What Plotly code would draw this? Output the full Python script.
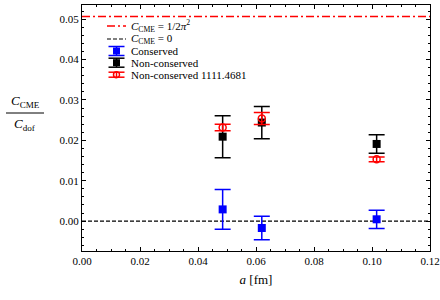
import math
import plotly.graph_objects as go

# ---- data ----
a_fm = [0.0485, 0.0620, 0.1016]
cons_y = [0.0029, -0.0017, 0.00045]
cons_err = [0.0049, 0.0029, 0.00225]
ncons_y = [0.0209, 0.0244, 0.0191]
ncons_err = [0.0052, 0.0040, 0.0023]
ref_y = [0.0232, 0.0254, 0.0153]
ref_err = [0.0008, 0.0015, 0.0006]
c_cme_theory = 1 / (2 * math.pi ** 2)
c_cme_zero = 0.0

x_ticks = [0.00, 0.02, 0.04, 0.06, 0.08, 0.10, 0.12]
y_ticks = [0.00, 0.01, 0.02, 0.03, 0.04, 0.05]

legend_labels = ["<i>C</i><sub>CME</sub> = 1/2<i>π</i><sup>2</sup>",
                 "<i>C</i><sub>CME</sub> = 0",
                 "Conserved", "Non-conserved", "Non-conserved 1111.4681"]

BLUE = "#0000ff"
BLACK = "#000000"
RED = "#ff0000"
FONT = "Liberation Serif"
DASHDOT = "8px,3px,2px,3px"
DASH = "4px,2px"

W, H = 440, 300
L, R, T, B = 82, 10, 5, 49
PW, PH = W - L - R, H - T - B


def px(xp):
    return (xp - L) / PW


def py(yp):
    return (H - B - yp) / PH


fig = go.Figure()

fig.add_trace(go.Scatter(
    x=a_fm, y=ncons_y, mode="markers",
    marker=dict(symbol="square", size=8, color=BLACK),
    error_y=dict(type="data", array=ncons_err, color=BLACK, thickness=1.5, width=8),
    showlegend=False))
fig.add_trace(go.Scatter(
    x=a_fm, y=ref_y, mode="markers",
    marker=dict(symbol="circle-open", size=7, color=RED, line=dict(width=1.5)),
    error_y=dict(type="data", array=ref_err, color=RED, thickness=1.5, width=8),
    showlegend=False))
fig.add_trace(go.Scatter(
    x=a_fm, y=cons_y, mode="markers",
    marker=dict(symbol="square", size=8, color=BLUE),
    error_y=dict(type="data", array=cons_err, color=BLUE, thickness=1.5, width=8),
    showlegend=False))

shapes = []
# reference lines
shapes.append(dict(type="line", xref="paper", yref="y", x0=0, x1=1, y0=c_cme_theory, y1=c_cme_theory,
                   line=dict(color=RED, width=1.5, dash=DASHDOT), layer="above"))
shapes.append(dict(type="line", xref="paper", yref="y", x0=0, x1=1, y0=c_cme_zero, y1=c_cme_zero,
                   line=dict(color=BLACK, width=1.2, dash=DASH), layer="below"))

# ---- custom legend ----
rows = [26, 39, 51, 62.7, 74.7]
sx0, sx1 = 107, 126
sxc = (sx0 + sx1) / 2
shapes.append(dict(type="line", xref="paper", yref="paper", x0=px(sx0), x1=px(sx1),
                   y0=py(rows[0]), y1=py(rows[0]),
                   line=dict(color=RED, width=1.5, dash=DASHDOT)))
shapes.append(dict(type="line", xref="paper", yref="paper", x0=px(sx0), x1=px(sx1),
                   y0=py(rows[1]), y1=py(rows[1]),
                   line=dict(color=BLACK, width=1.2, dash=DASH)))
for yr, col, kind in [(rows[2], BLUE, "sq"), (rows[3], BLACK, "sq"), (rows[4], RED, "circ")]:
    half = 4.5 if kind == "sq" else 2.5
    shapes.append(dict(type="line", xref="paper", yref="paper", x0=px(sxc), x1=px(sxc),
                       y0=py(yr - half), y1=py(yr + half), line=dict(color=col, width=1.5)))
    for yc in (yr - half, yr + half):
        shapes.append(dict(type="line", xref="paper", yref="paper", x0=px(sxc - 8), x1=px(sxc + 8),
                           y0=py(yc), y1=py(yc), line=dict(color=col, width=1.5)))
    if kind == "sq":
        shapes.append(dict(type="rect", xref="paper", yref="paper", x0=px(sxc - 3.5), x1=px(sxc + 3.5),
                           y0=py(yr - 3.5), y1=py(yr + 3.5), fillcolor=col, line=dict(width=0)))
    else:
        shapes.append(dict(type="circle", xref="paper", yref="paper", x0=px(sxc - 3), x1=px(sxc + 3),
                           y0=py(yr - 3), y1=py(yr + 3), line=dict(color=col, width=1.5)))

annotations = []
for yr, lab in zip(rows, legend_labels):
    annotations.append(dict(xref="paper", yref="paper", x=px(129), y=py(yr), text=lab,
                            showarrow=False, xanchor="left", yanchor="middle",
                            font=dict(family=FONT, size=11, color="black")))

# y-axis title as fraction
annotations.append(dict(xref="paper", yref="paper", x=px(25), y=py(112), text="<i>C</i><sub>CME</sub>",
                        showarrow=False, xanchor="center", yanchor="bottom",
                        font=dict(family=FONT, size=13, color="black")))
annotations.append(dict(xref="paper", yref="paper", x=px(25), y=py(114), text="<i>C</i><sub>dof</sub>",
                        showarrow=False, xanchor="center", yanchor="top",
                        font=dict(family=FONT, size=13, color="black")))
shapes.append(dict(type="line", xref="paper", yref="paper", x0=px(6), x1=px(44),
                   y0=py(113), y1=py(113), line=dict(color="black", width=1)))

fig.update_layout(
    width=W, height=H,
    margin=dict(l=L, r=R, t=T, b=B, autoexpand=False),
    paper_bgcolor="white", plot_bgcolor="white",
    font=dict(family=FONT, size=11, color="black"),
    shapes=shapes, annotations=annotations,
    showlegend=False,
    xaxis=dict(range=[0, 0.12], tickvals=x_ticks, ticktext=[f"{v:.2f}" for v in x_ticks],
               automargin=False,
               ticks="inside", ticklen=4, tickwidth=1, tickcolor="black",
               minor=dict(dtick=0.005, ticks="inside", ticklen=2, tickcolor="black", tick0=0),
               showline=True, linecolor="black", linewidth=1, mirror="allticks",
               showgrid=False, zeroline=False,
               title=dict(text="<i>a</i> [fm]", font=dict(size=13), standoff=8)),
    yaxis=dict(range=[-0.0074, 0.0535], tickvals=y_ticks, ticktext=[f"{v:.2f}" for v in y_ticks],
               automargin=False,
               ticks="inside", ticklen=4, tickwidth=1, tickcolor="black",
               minor=dict(dtick=0.002, ticks="inside", ticklen=2, tickcolor="black", tick0=0),
               showline=True, linecolor="black", linewidth=1, mirror="allticks",
               showgrid=False, zeroline=False),
)

fig.write_html("out.html", config={"displayModeBar": False},
               post_script="document.body.style.margin='0';document.body.style.padding='0';")
